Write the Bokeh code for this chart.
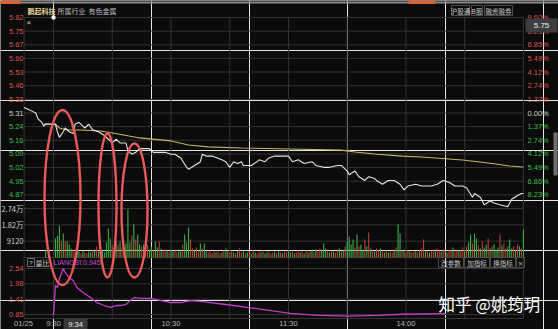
from bokeh.plotting import figure
from bokeh.models import Range1d
from bokeh.embed import file_html
from bokeh.resources import INLINE
from bokeh.core.properties import value

# ---------------- data ----------------
stock_name = "鹏起科技"
industry_tag = "所属行业"
industry = "有色金属"
prev_close = 5.31

# minutes after 9:30 (lunch collapsed, 11:30 == 13:00 == 120); negatives = call auction 9:15-9:25
price_t = [-15, -13, -11, -9, -8, -6, -5, -4, 0, 1, 2, 3, 5, 6, 8, 10, 11, 13, 15, 16, 18, 20, 23, 26, 28,
           30, 32, 34, 37, 38, 40, 42, 44, 45, 49, 51, 55, 57, 60, 62, 65, 68, 69, 72, 75, 76, 78, 81, 86,
           88, 90, 92, 94, 96, 97, 101, 104, 105, 108, 110, 113, 116, 120, 122, 125, 128, 132, 134, 138,
           141, 145, 147, 150, 151, 154, 156, 159, 161, 164, 165, 168, 171, 174, 177, 179, 181, 185, 188,
           193, 196, 199, 202, 205, 209, 211, 214, 215, 218, 220, 223, 225, 228, 232, 234, 237, 239, 240]
price_v = [5.34, 5.33, 5.32, 5.31, 5.28, 5.26, 5.24, 5.25, 5.25, 5.25, 5.21, 5.18, 5.21, 5.23, 5.21, 5.20,
           5.25, 5.26, 5.24, 5.23, 5.25, 5.22, 5.21, 5.19, 5.17, 5.15, 5.17, 5.15, 5.15, 5.11, 5.09, 5.10,
           5.12, 5.12, 5.12, 5.10, 5.10, 5.10, 5.09, 5.09, 5.07, 5.02, 5.01, 5.03, 5.05, 5.09, 5.08, 5.08,
           5.06, 5.05, 5.02, 5.05, 5.04, 5.05, 5.03, 5.03, 5.05, 5.06, 5.05, 5.07, 5.08, 5.08, 5.08, 5.05,
           5.06, 5.04, 5.05, 5.03, 5.02, 5.02, 5.03, 5.03, 5.00, 4.98, 5.00, 4.97, 4.95, 4.97, 4.96, 4.95,
           4.93, 4.95, 4.95, 4.93, 4.90, 4.92, 4.93, 4.92, 4.92, 4.93, 4.95, 4.94, 4.92, 4.92, 4.91, 4.86,
           4.88, 4.86, 4.82, 4.84, 4.83, 4.82, 4.81, 4.85, 4.87, 4.88, 4.88]

avg_t = [-5, 1, 3, 7, 14, 24, 33, 44, 60, 69, 79, 96, 121, 147, 154, 164, 178, 188, 209, 222, 233, 240]
avg_v = [5.251, 5.251, 5.230, 5.219, 5.219, 5.214, 5.198, 5.177, 5.161, 5.139, 5.129, 5.123, 5.118,
         5.112, 5.102, 5.091, 5.080, 5.075, 5.059, 5.043, 5.027, 5.022]

auction_t = [-4]
auction_v = [4500]

vol_t = list(range(1, 241))
vol_v = [10600, 12000, 17900, 9000, 13400, 9000, 8900, 7300, 5000, 3900,
         2800, 4400, 3300, 2200, 3900, 2800, 2200, 3300, 2800, 3900,
         4400, 6100, 3300, 5600, 3900, 2800, 8400, 16200, 10600, 6700,
         5000, 8900, 7300, 8900, 5600, 3900, 7800, 26800, 8400, 12300,
         18400, 10000, 12800, 7300, 6100, 7300, 5000, 7300, 4400, 6100,
         3900, 8900, 5600, 8900, 5000, 3300, 4400, 3900, 2800, 4400,
         3300, 3900, 2800, 4400, 3300, 7300, 12800, 8400, 16700, 10000,
         5000, 3900, 5600, 3300, 7800, 5000, 7800, 3300, 2800, 3900,
         2200, 3300, 2800, 3900, 2200, 2800, 3900, 5000, 3300, 2800,
         3900, 2800, 2200, 3300, 5000, 2800, 3900, 2200, 2800, 3300,
         2200, 3900, 2800, 2200, 3300, 2800, 3900, 2200, 2800, 3300,
         2200, 2800, 3300, 2200, 3900, 2800, 2200, 3300, 2800, 3900,
         2800, 3300, 2200, 2800, 3900, 2800, 3300, 2200, 3900, 2800,
         3300, 3900, 2800, 4400, 3300, 5000, 3900, 7800, 5000, 3300,
         2800, 3900, 3300, 2800, 3900, 5000, 3300, 3900, 6100, 8900,
         11700, 7300, 10000, 5600, 12800, 6100, 7300, 3900, 10000, 6100,
         13900, 5000, 3900, 3300, 5000, 3900, 5000, 3300, 2800, 3900,
         2800, 3300, 2800, 3900, 5600, 18400, 13400, 3900, 3300, 2800,
         3900, 3300, 2800, 3900, 3300, 2800, 3900, 5000, 10000, 3900,
         3300, 2800, 3900, 4400, 3300, 5000, 3900, 3300, 4400, 3900,
         2800, 4400, 3900, 5600, 3300, 3900, 4400, 3300, 5600, 3900,
         6100, 8400, 12800, 7800, 13400, 10600, 6700, 5000, 8900, 5600,
         7300, 10600, 5000, 6100, 7300, 3900, 5600, 12800, 6700, 7800,
         5000, 6100, 10000, 5000, 6100, 3900, 7300, 6100, 5000, 15600]
vol_dir = "".join(["gggrgrgggr", "rggrgrrggr", "grgrgggggr", "ggrgrggggr", "grggrgrrgg", "rggrgrrgrg",
                   "grrggrgggr", "rgrrgrggrr", "grgrrgrggr", "rgrgrrgrgr", "grgrrgrggr", "rrgrgrgrrg",
                   "grgrrgrgrg", "rgrgrrgggr", "grgrrgrgrg", "gggrgrggrg", "rgrgrrgrgr", "grrgrggrgr",
                   "rgrrgrgrrg", "rgrrgrrgrr", "grrgrrgrrg", "rggrggrgrg", "grgrgggrgr", "rgggrgrgrg"])

lb_t = [0, 1, 2, 3, 4, 5, 6, 8, 10, 12, 15, 19, 22, 26, 29, 32, 34, 37, 38, 41, 45, 50, 55, 60, 65, 70,
        75, 92, 110, 121, 135, 151, 166, 178, 200]
lb_v = [0.82, 1.92, 1.84, 2.17, 2.36, 2.54, 2.39, 2.21, 2.10, 1.84, 1.66, 1.47, 1.29, 1.18, 1.11, 1.18,
        1.18, 1.22, 1.29, 1.47, 1.44, 1.44, 1.36, 1.29, 1.29, 1.36, 1.33, 1.18, 1.00, 0.89, 0.82, 0.79,
        0.82, 0.86, 0.88]
lb_name = "LIANGBI:0.945↑"

pct_ticks = [9.60, 8.23, 6.85, 5.49, 4.12, 2.74, 1.37, 0.00, -1.37, -2.74, -4.12, -5.49, -6.86, -8.23]
price_labels = ["5.82", "5.75", "5.67", "5.60", "5.53", "5.46", "5.38", "5.31", "5.24", "5.16", "5.09",
                "5.02", "4.95", "4.87"]
pct_floor = -9.60
vol_ticks = [27360, 18240, 9120]
vol_labels = ["2.74万", "1.82万", "9120"]
lb_ticks = [2.54, 1.98, 1.41, 0.85]
lb_labels = ["2.54", "1.98", "1.41", "0.85"]
time_ticks = [0, 60, 120, 180]
time_labels = ["9:30", "10:30", "11:30", "14:00"]
date_label = "01/25"
cursor_time = "9:34"
cursor_price = "5.75"
grid_times = [-15, 0, 30, 60, 90, 120, 150, 180, 210, 240]

# hand-drawn annotation loops (pixel space): centre x, centre y, width, height
ann_x = [62, 107, 134]
ann_y = [197, 205, 210]
ann_w = [36, 18, 26]
ann_h = [175, 144, 134]

# ---------------- layout ----------------
W, H = 558, 329
X930, PPM = 53.0, 1.958
def px2m(px):
    return (px - X930) / PPM

Y_PT, Y_PB = 17, 208          # price panel +9.6% / -9.6%
Y_V0, Y_VT = 257, 208         # volume 0 / top tick
Y_L0, Y_L1 = 314, 268         # 量比 0.85 / 2.54

BG = "#0b0b0b"
GRID = "#343434"
RED = "#d6544e"
GREEN = "#3fbb4f"
NEUT = "#cfcfcf"
UPC = "#c4403c"
DNC = "#3fae49"
NUMF = value("Liberation Sans")
CJK = value("Noto Sans CJK SC")

p = figure(width=W, height=H, output_backend="svg", toolbar_location=None,
           x_range=Range1d(px2m(0), px2m(W)), y_range=Range1d(H, 0),
           x_axis_location=None, y_axis_location=None, min_border=0, title=None,
           background_fill_color=BG, border_fill_color=BG, outline_line_color=None)

top_p = prev_close * (1 + pct_ticks[0] / 100)
bot_p = prev_close * (1 + pct_floor / 100)
ppx = (top_p - bot_p) / (Y_PB - Y_PT)
vpx = vol_ticks[0] / (Y_V0 - Y_VT)
lpx = (lb_ticks[0] - lb_ticks[-1]) / (Y_L0 - Y_L1)
p.extra_x_ranges = {"px": Range1d(0, W)}
p.extra_y_ranges = {
    "price": Range1d(bot_p - (H - Y_PB) * ppx, top_p + Y_PT * ppx),
    "vol": Range1d(-(H - Y_V0) * vpx, vol_ticks[0] + Y_VT * vpx),
    "lb": Range1d(lb_ticks[-1] - (H - Y_L0) * lpx, lb_ticks[0] + Y_L1 * lpx),
}

# top strip
p.quad(left=0, right=W, top=1, bottom=3, x_range_name="px", fill_color="#8a8a8a", line_color=None)
p.quad(left=[0, 408], right=[20, 435], top=0, bottom=3.5, x_range_name="px", fill_color="#e0612f", line_color=None)

# grids
price_grid = [prev_close * (1 + v / 100) for v in pct_ticks + [pct_floor]]
p.segment(x0=grid_times[0], x1=grid_times[-1], y0=price_grid, y1=price_grid, y_range_name="price",
          line_color=GRID, line_width=1)
vg = vol_ticks + [0]
p.segment(x0=grid_times[0], x1=grid_times[-1], y0=vg, y1=vg, y_range_name="vol", line_color=GRID, line_width=1)
p.segment(x0=grid_times[0], x1=grid_times[-1], y0=lb_ticks, y1=lb_ticks, y_range_name="lb",
          line_color=GRID, line_width=1)
p.segment(x0=grid_times, x1=grid_times, y0=Y_PT, y1=318, line_color=GRID, line_width=1)
p.segment(x0=grid_times[0], x1=grid_times[-1], y0=318, y1=318, line_color=GRID, line_width=1)

# volume bars
vcol = [UPC if vol_dir[i % len(vol_dir)] == "r" else DNC for i in range(len(vol_v))]
p.vbar(x=vol_t, top=vol_v, bottom=0, width=0.55, fill_color=vcol, line_color=None, y_range_name="vol")
p.vbar(x=auction_t, top=auction_v, bottom=0, width=0.55, fill_color=DNC, line_color=None, y_range_name="vol")

# price & average
p.line(avg_t, avg_v, y_range_name="price", line_color="#c9b45c", line_width=1.1)
p.line(price_t, price_v, y_range_name="price", line_color="#e6e6e6", line_width=1.1)

# 量比
p.line(lb_t, lb_v, y_range_name="lb", line_color="#c23cc8", line_width=1.3)

# axis labels
yp = [prev_close * (1 + v / 100) for v in pct_ticks]
cols = [RED if v > 0 else (NEUT if v == 0 else GREEN) for v in pct_ticks]
p.text(x=23, y=yp, text=price_labels, text_color=cols, x_range_name="px", y_range_name="price",
       text_font=NUMF, text_font_size=value("7.5px"), text_align="right", text_baseline="middle")
pct_text = ["%.2f%%" % abs(v) for v in pct_ticks]
p.text(x=527, y=yp, text=pct_text, text_color=cols, x_range_name="px", y_range_name="price",
       text_font=NUMF, text_font_size=value("7.5px"), text_align="left", text_baseline="middle")
p.text(x=23, y=vol_ticks, text=vol_labels, text_color=NEUT, x_range_name="px", y_range_name="vol",
       text_font=CJK, text_font_size=value("7.5px"), text_align="right", text_baseline="middle")
p.text(x=23, y=lb_ticks, text=lb_labels, text_color=RED, x_range_name="px", y_range_name="lb",
       text_font=NUMF, text_font_size=value("7.5px"), text_align="right", text_baseline="middle")

# time axis
p.text(x=time_ticks, y=323, text=time_labels, text_color="#b8b8b8", text_font=NUMF,
       text_font_size=value("7.5px"), text_align="center", text_baseline="middle")
p.text(x=[23], y=[323], text=[date_label], text_color="#b8b8b8", x_range_name="px", text_font=NUMF,
       text_font_size=value("7.5px"), text_align="center", text_baseline="middle")
p.quad(left=63, right=87, top=318, bottom=329, x_range_name="px", fill_color="#3a3a3a", line_color=None)
p.text(x=[75], y=[323.5], text=[cursor_time], text_color="#e8e8e8", x_range_name="px", text_font=NUMF,
       text_font_size=value("7.5px"), text_align="center", text_baseline="middle")

# title row
p.text(x=[27], y=[10], text=[stock_name], text_color="#e6d59a", x_range_name="px", text_font=CJK,
       text_font_size=value("7px"), text_align="left", text_baseline="middle", text_font_style="bold")
p.text(x=[57, 88], y=[10, 10], text=[industry_tag, industry], text_color="#bdbdbd", x_range_name="px",
       text_font=CJK, text_font_size=value("7px"), text_align="left", text_baseline="middle")
bl = [451, 471, 484]
br = [469, 482, 512]
p.quad(left=bl, right=br, top=5, bottom=15, x_range_name="px", fill_color=None, line_color="#4a4a4a")
p.text(x=[(a + b) / 2 for a, b in zip(bl, br)], y=10, text=["沪股通", "B股", "融资融券"], text_color="#c8c8c8",
       x_range_name="px", text_font=CJK, text_font_size=value("6.5px"), text_align="center",
       text_baseline="middle")

# cursor price box
p.quad(left=525, right=557, top=18, bottom=32, x_range_name="px", fill_color="#3d3d3d", line_color=None)
p.text(x=[541], y=[25], text=[cursor_price], text_color="#f0f0f0", x_range_name="px", text_font=NUMF,
       text_font_size=value("8px"), text_align="center", text_baseline="middle")
p.text(x=[26], y=[22], text=["×"], text_color="#cfcfcf", x_range_name="px", text_font=NUMF,
       text_font_size=value("8px"), text_align="left", text_baseline="middle")
p.scatter(x=[53], y=[17], marker="square", size=3, color="#f0f0f0", x_range_name="px")
p.quad(left=553, right=557, top=132, bottom=175, x_range_name="px", fill_color="#6e6e6e", line_color=None)

# indicator header
p.quad(left=27, right=34, top=258, bottom=266, x_range_name="px", fill_color=None, line_color="#6a6a6a")
p.text(x=[30.5], y=[262], text=["?"], text_color="#cfcfcf", x_range_name="px", text_font=NUMF,
       text_font_size=value("6px"), text_align="center", text_baseline="middle")
p.text(x=[35], y=[262], text=["量比"], text_color="#cfcfcf", x_range_name="px", text_font=CJK,
       text_font_size=value("7px"), text_align="left", text_baseline="middle")
p.text(x=[53], y=[262], text=[lb_name], text_color="#c84ad0", x_range_name="px", text_font=NUMF,
       text_font_size=value("7px"), text_align="left", text_baseline="middle")
bl2 = [438, 464, 490, 516]
br2 = [463, 489, 515, 524]
p.quad(left=bl2, right=br2, top=257, bottom=267, x_range_name="px", fill_color=None, line_color="#4a4a4a")
p.text(x=[(a + b) / 2 for a, b in zip(bl2, br2)], y=262, text=["改参数", "加指标", "换指标", "×"],
       text_color="#c8c8c8", x_range_name="px", text_font=CJK, text_font_size=value("6.5px"),
       text_align="center", text_baseline="middle")

# annotation loops
p.ellipse(x=ann_x, y=ann_y, width=ann_w, height=ann_h, width_units="screen", height_units="screen",
          x_range_name="px", fill_color=None, line_color="#ea5a58", line_width=2.4)

# watermark
p.text(x=[438], y=[303], text=["知乎 @姚筠玥"], text_color="#ffffff", x_range_name="px", text_font=CJK,
       text_font_size=value("16.5px"), text_align="left", text_baseline="middle")

open("out.html", "w").write(file_html(p, INLINE))
